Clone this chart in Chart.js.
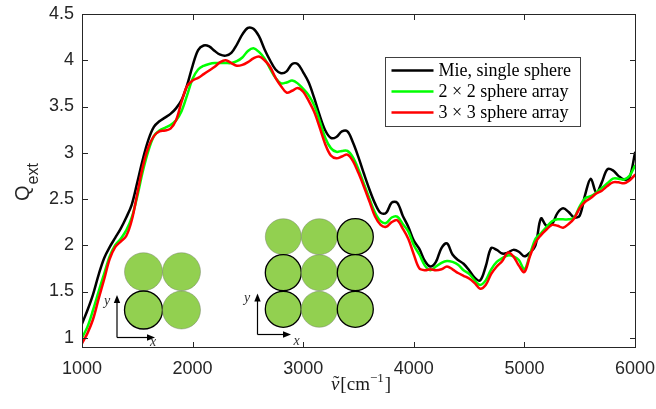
<!DOCTYPE html>
<html>
<head>
<meta charset="UTF-8">
<title>Q_ext</title>
<script src="https://cdn.jsdelivr.net/npm/chart.js"></script>
<style>
  html, body { margin: 0; padding: 0; background: #fff; }
</style>
</head>
<body>
<canvas id="qChart" width="656" height="409"></canvas>
<script>
// wavenumber grid (cm^-1)
const wavenumber = [1000, 1050, 1100, 1150, 1200, 1250, 1300, 1350, 1400, 1450,
  1500, 1550, 1600, 1650, 1700, 1750, 1800, 1850, 1900, 1950,
  2000, 2050, 2100, 2150, 2200, 2250, 2300, 2350, 2400, 2450,
  2500, 2550, 2600, 2650, 2700, 2750, 2800, 2850, 2900, 2950,
  3000, 3050, 3100, 3150, 3200, 3250, 3300, 3350, 3400, 3450,
  3500, 3550, 3600, 3650, 3700, 3750, 3800, 3850, 3900, 3950,
  4000, 4050, 4100, 4150, 4200, 4250, 4300, 4350, 4400, 4450,
  4500, 4550, 4600, 4650, 4700, 4750, 4800, 4850, 4900, 4950,
  5000, 5050, 5100, 5150, 5200, 5250, 5300, 5350, 5400, 5450,
  5500, 5550, 5600, 5650, 5700, 5750, 5800, 5850, 5900, 5950, 6000];

// Mie, single sphere
const mieSingle = [1.15, 1.30, 1.47, 1.68, 1.86, 1.98, 2.08, 2.18, 2.30, 2.44,
  2.68, 2.93, 3.14, 3.28, 3.34, 3.38, 3.42, 3.48, 3.57, 3.73,
  3.94, 4.11, 4.16, 4.15, 4.10, 4.06, 4.05, 4.08, 4.17, 4.28,
  4.35, 4.34, 4.26, 4.12, 4.00, 3.90, 3.86, 3.88, 3.96, 3.96,
  3.87, 3.76, 3.59, 3.40, 3.24, 3.16, 3.17, 3.23, 3.23, 3.11,
  2.95, 2.77, 2.60, 2.45, 2.35, 2.35, 2.46, 2.46, 2.32, 2.20,
  2.05, 1.96, 1.83, 1.77, 1.82, 1.97, 2.02, 1.90, 1.84, 1.80,
  1.73, 1.65, 1.62, 1.77, 1.97, 1.95, 1.91, 1.92, 1.95, 1.93,
  1.88, 1.92, 2.00, 2.29, 2.21, 2.23, 2.35, 2.40, 2.36, 2.30,
  2.32, 2.55, 2.72, 2.57, 2.68, 2.82, 2.81, 2.75, 2.71, 2.73, 3.00];

// 2 x 2 sphere array
const array2x2 = [1.00, 1.12, 1.30, 1.50, 1.69, 1.88, 2.00, 2.07, 2.16, 2.30,
  2.53, 2.80, 3.02, 3.18, 3.24, 3.27, 3.30, 3.35, 3.45, 3.62,
  3.80, 3.90, 3.94, 3.96, 3.97, 3.97, 3.97, 3.97, 3.99, 4.03,
  4.10, 4.13, 4.09, 4.02, 3.91, 3.81, 3.75, 3.76, 3.78, 3.75,
  3.69, 3.62, 3.51, 3.34, 3.16, 3.05, 3.01, 3.02, 3.02, 2.95,
  2.82, 2.66, 2.50, 2.35, 2.26, 2.24, 2.30, 2.31, 2.23, 2.15,
  2.00, 1.90, 1.78, 1.73, 1.77, 1.81, 1.83, 1.82, 1.79, 1.73,
  1.69, 1.62, 1.57, 1.62, 1.74, 1.82, 1.86, 1.89, 1.88, 1.84,
  1.74, 1.90, 2.07, 2.13, 2.20, 2.26, 2.28, 2.28, 2.28, 2.30,
  2.42, 2.51, 2.53, 2.57, 2.62, 2.67, 2.72, 2.72, 2.71, 2.75, 2.86];

// 3 x 3 sphere array
const array3x3 = [0.94, 1.05, 1.20, 1.42, 1.63, 1.85, 1.98, 2.04, 2.10, 2.27,
  2.56, 2.85, 3.06, 3.18, 3.23, 3.24, 3.26, 3.35, 3.55, 3.72,
  3.78, 3.81, 3.85, 3.89, 3.93, 3.98, 4.00, 3.97, 3.94, 3.95,
  3.98, 4.02, 4.04, 4.00, 3.93, 3.81, 3.72, 3.65, 3.67, 3.70,
  3.66, 3.56, 3.44, 3.27, 3.09, 2.97, 2.94, 2.96, 2.98, 2.91,
  2.78, 2.63, 2.47, 2.31, 2.22, 2.20, 2.25, 2.27, 2.18, 2.07,
  1.90, 1.75, 1.73, 1.74, 1.73, 1.74, 1.77, 1.74, 1.70, 1.67,
  1.64, 1.59, 1.53, 1.57, 1.69, 1.77, 1.83, 1.92, 1.88, 1.78,
  1.71, 1.88, 2.03, 2.11, 2.17, 2.22, 2.21, 2.19, 2.23, 2.29,
  2.40, 2.47, 2.51, 2.56, 2.59, 2.64, 2.68, 2.68, 2.67, 2.70, 2.76];

const seriesNames = ['Mie, single sphere', '2 \u00d7 2 sphere array', '3 \u00d7 3 sphere array'];
const seriesColors = ['#000000', '#00ff00', '#ff0000'];
const xTicks = [1000, 2000, 3000, 4000, 5000, 6000];
const yTicks = [1, 1.5, 2, 2.5, 3, 3.5, 4, 4.5];

const axisColor = '#262626';
const sansFont = '"Liberation Sans", Arial, sans-serif';
const serifFont = '"Liberation Serif", "Times New Roman", serif';

function toPoints(values) {
  return wavenumber.map((x, i) => ({ x: x, y: values[i] }));
}

// box round the axes, with ticks pointing inwards on all four sides
const frameBox = {
  id: 'frameBox',
  afterDatasetsDraw(chart) {
    const { ctx, chartArea: a, scales } = chart;
    const L = Math.round(a.left) + 0.5, R = Math.round(a.right) + 0.5;
    const T = Math.round(a.top) + 0.5, B = Math.round(a.bottom) + 0.5;
    ctx.save();
    ctx.strokeStyle = axisColor;
    ctx.lineWidth = 1;
    ctx.strokeRect(L, T, R - L, B - T);
    ctx.beginPath();
    xTicks.forEach(v => {
      const px = Math.round(scales.x.getPixelForValue(v)) + 0.5;
      ctx.moveTo(px, B); ctx.lineTo(px, B - 5.5);
      ctx.moveTo(px, T); ctx.lineTo(px, T + 5.5);
    });
    yTicks.forEach(v => {
      const py = Math.round(scales.y.getPixelForValue(v)) + 0.5;
      ctx.moveTo(L, py); ctx.lineTo(L + 5.5, py);
      ctx.moveTo(R, py); ctx.lineTo(R - 5.5, py);
    });
    ctx.stroke();
    ctx.restore();
  }
};

// little pictures of the sphere arrays
function arrow(ctx, x0, y0, x1, y1) {
  const ang = Math.atan2(y1 - y0, x1 - x0);
  ctx.beginPath();
  ctx.moveTo(x0, y0); ctx.lineTo(x1 - 6 * Math.cos(ang), y1 - 6 * Math.sin(ang));
  ctx.stroke();
  ctx.beginPath();
  ctx.moveTo(x1, y1);
  ctx.lineTo(x1 - 8 * Math.cos(ang) + 3.2 * Math.sin(ang), y1 - 8 * Math.sin(ang) - 3.2 * Math.cos(ang));
  ctx.lineTo(x1 - 8 * Math.cos(ang) - 3.2 * Math.sin(ang), y1 - 8 * Math.sin(ang) + 3.2 * Math.cos(ang));
  ctx.closePath();
  ctx.fill();
}

function sphereGrid(ctx, cols, rows, r, outlined) {
  cols.forEach((cx, i) => {
    rows.forEach((cy, j) => {
      ctx.beginPath();
      ctx.arc(cx, cy, r, 0, Math.PI * 2);
      ctx.fillStyle = '#92d050';
      ctx.fill();
      const dark = outlined.some(p => p[0] === i && p[1] === j);
      ctx.strokeStyle = dark ? '#000' : 'rgba(110,120,100,0.55)';
      ctx.lineWidth = dark ? 1.3 : 0.8;
      ctx.stroke();
    });
  });
}

function axesGlyph(ctx, ox, oy, top, right, yLab, xLab) {
  ctx.strokeStyle = '#000';
  ctx.fillStyle = '#000';
  ctx.lineWidth = 1.2;
  arrow(ctx, ox, oy, ox, top);
  arrow(ctx, ox, oy, right, oy);
  ctx.fillStyle = '#333';
  ctx.font = 'italic 14px ' + serifFont;
  ctx.textAlign = 'center';
  ctx.textBaseline = 'middle';
  ctx.fillText('y', yLab[0], yLab[1]);
  ctx.fillText('x', xLab[0], xLab[1]);
}

const insets = {
  id: 'insets',
  beforeDatasetsDraw(chart) {
    const ctx = chart.ctx;
    ctx.save();
    sphereGrid(ctx, [143.5, 181.5], [271.7, 310], 19, [[0, 1]]);
    axesGlyph(ctx, 117, 337.5, 295, 155, [107, 301], [153, 342]);
    sphereGrid(ctx, [283.3, 319.3, 355.3], [236.7, 272.7, 309.3], 18,
      [[0, 1], [0, 2], [2, 0], [2, 1], [2, 2]]);
    axesGlyph(ctx, 257.5, 334.5, 293.5, 291, [247, 298], [296.5, 341]);
    ctx.restore();
  }
};

// legend inside the axes, upper right
const boxLegend = {
  id: 'boxLegend',
  afterDraw(chart) {
    const { ctx, chartArea: a } = chart;
    const x0 = Math.round(a.left + 303) + 0.5, y0 = Math.round(a.top + 43) + 0.5;
    const w = 195, h = 69, rowH = 21;
    ctx.save();
    ctx.fillStyle = '#fff';
    ctx.fillRect(x0, y0, w, h);
    ctx.strokeStyle = '#404040';
    ctx.lineWidth = 1;
    ctx.strokeRect(x0, y0, w, h);
    ctx.font = '18px ' + serifFont;
    ctx.textBaseline = 'middle';
    ctx.textAlign = 'left';
    chart.data.datasets.forEach((ds, i) => {
      const ry = y0 + 13 + i * rowH;
      ctx.strokeStyle = ds.borderColor;
      ctx.lineWidth = 2.5;
      ctx.beginPath();
      ctx.moveTo(x0 + 6, ry); ctx.lineTo(x0 + 48, ry);
      ctx.stroke();
      ctx.fillStyle = '#000';
      ctx.fillText(ds.label, x0 + 53, ry + 1);
    });
    ctx.restore();
  }
};

// axis titles with sub/superscripts
const axisTitles = {
  id: 'axisTitles',
  afterDraw(chart) {
    const ctx = chart.ctx;
    ctx.save();
    ctx.fillStyle = axisColor;
    // Q_ext, rotated
    ctx.translate(28.5, 201);
    ctx.rotate(-Math.PI / 2);
    ctx.textAlign = 'left';
    ctx.textBaseline = 'alphabetic';
    ctx.font = '20px ' + sansFont;
    ctx.fillText('Q', 0, 0);
    const wq = ctx.measureText('Q').width;
    ctx.font = '16px ' + sansFont;
    ctx.fillText('ext', wq + 1, 9.5);
    ctx.setTransform(1, 0, 0, 1, 0, 0);

    // v~ [cm^-1]
    const base = 389.5;
    ctx.font = 'italic 19px ' + serifFont;
    const wv = ctx.measureText('v').width;
    ctx.font = '19px ' + serifFont;
    const w1 = ctx.measureText('[cm').width;
    const w3 = ctx.measureText(']').width;
    ctx.font = '13px ' + serifFont;
    const w2 = ctx.measureText('\u22121').width;
    let x = 361 - (wv + 1 + w1 + w2 + 1 + w3) / 2;
    ctx.fillStyle = '#1a1a1a';
    ctx.font = 'italic 19px ' + serifFont;
    ctx.fillText('v', x, base);
    ctx.font = '19px ' + serifFont;
    ctx.textAlign = 'center';
    ctx.fillText('\u02dc', x + wv / 2 + 1, base - 1);
    ctx.textAlign = 'left';
    x += wv + 1;
    ctx.fillText('[cm', x, base);
    x += w1;
    ctx.font = '13px ' + serifFont;
    ctx.fillText('\u22121', x, base - 8);
    x += w2 + 1;
    ctx.font = '19px ' + serifFont;
    ctx.fillText(']', x, base);
    ctx.restore();
  }
};

const config = {
  type: 'line',
  data: {
    datasets: [
      { label: seriesNames[0], data: toPoints(mieSingle), borderColor: seriesColors[0], order: 2 },
      { label: seriesNames[1], data: toPoints(array2x2), borderColor: seriesColors[1], order: 1 },
      { label: seriesNames[2], data: toPoints(array3x3), borderColor: seriesColors[2], order: 0 }
    ]
  },
  options: {
    responsive: false,
    animation: false,
    layout: { padding: { left: 0, top: 14, right: 21, bottom: 0 } },
    elements: {
      line: { borderWidth: 2.5, tension: 0.35, fill: false, borderCapStyle: 'round', borderJoinStyle: 'round' },
      point: { radius: 0 }
    },
    plugins: {
      legend: { display: false },
      tooltip: { enabled: false }
    },
    scales: {
      x: {
        type: 'linear',
        min: 1000,
        max: 6000,
        grid: { display: false, drawTicks: false },
        border: { display: false },
        afterBuildTicks: s => { s.ticks = xTicks.map(v => ({ value: v })); },
        afterFit: s => { s.height = 62; s.paddingLeft = 0; s.paddingRight = 0; },
        ticks: {
          color: axisColor,
          font: { family: sansFont, size: 18 },
          padding: 11,
          maxRotation: 0,
          callback: v => String(v)
        }
      },
      y: {
        type: 'linear',
        min: 0.9,
        max: 4.5,
        grid: { display: false, drawTicks: false },
        border: { display: false },
        afterBuildTicks: s => { s.ticks = yTicks.map(v => ({ value: v })); },
        afterFit: s => { s.width = 82; s.paddingTop = 0; s.paddingBottom = 0; },
        ticks: {
          color: axisColor,
          font: { family: sansFont, size: 18 },
          padding: 8,
          callback: v => String(v)
        }
      }
    }
  },
  plugins: [insets, frameBox, boxLegend, axisTitles]
};

new Chart(document.getElementById('qChart').getContext('2d'), config);
</script>
</body>
</html>
